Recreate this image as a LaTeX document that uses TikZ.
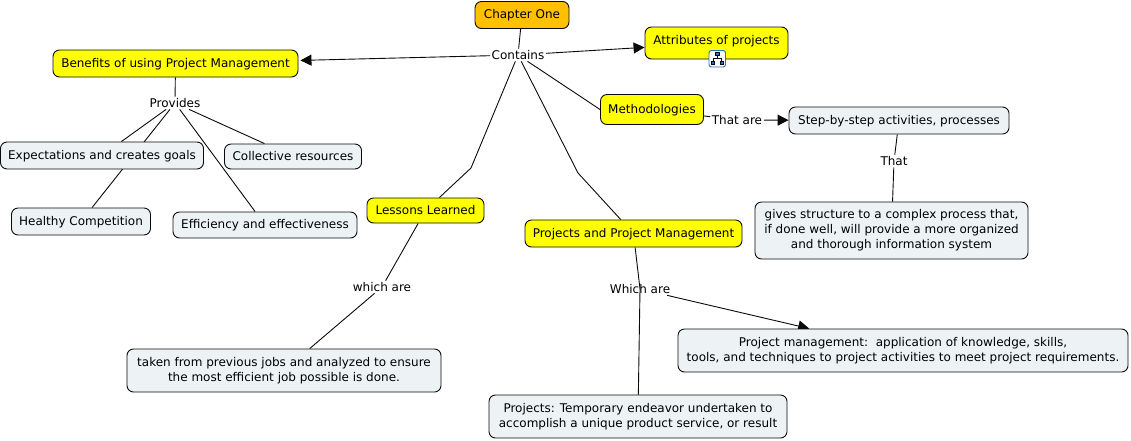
\documentclass[tikz,border=0pt]{standalone}
\usepackage{fontspec}
\setmainfont{DejaVu Sans}
\usetikzlibrary{arrows.meta,backgrounds}
\definecolor{cmapChapter}{RGB}{255,192,0}
\definecolor{cmapTopic}{RGB}{255,255,0}
\definecolor{cmapDetail}{RGB}{237,243,245}
\definecolor{cmapLine}{RGB}{10,10,10}
\definecolor{cmapIcon}{RGB}{40,110,210}
\begin{document}
\begin{tikzpicture}[x=1pt,y=-1pt,
      chapter/.style={draw=cmapLine, fill=cmapChapter, rounded corners=6.5pt,
        line width=.9pt, inner sep=0pt, align=center, font=\fontsize{12}{15}\selectfont},
      topic/.style={chapter, fill=cmapTopic},
      detail/.style={chapter, fill=cmapDetail},
      oneline/.style={text height=9pt, text depth=2pt},
      linking/.style={inner sep=1.5pt, font=\fontsize{12}{15}\selectfont},
      link/.style={draw=cmapLine, line width=.9pt},
      linkto/.style={link, -{Triangle[length=11pt,width=11pt]}}]
      \useasboundingbox (0,0) rectangle (1131,440);

      % Concepts, top of the map first.
      \node[chapter, oneline, minimum width=94pt, minimum height=27pt] (chapter) at (522,15) {Chapter One};
      \node[topic, minimum width=143pt, minimum height=32pt, text height=9pt, text depth=7pt] (attributes) at (716.5,43) {Attributes of projects};
      \node[topic, oneline, minimum width=245pt, minimum height=27pt] (benefits) at (175.5,63.5) {Benefits of using Project Management};
      \node[topic, oneline, minimum width=103pt, minimum height=30pt] (methods) at (652,109.5) {Methodologies};
      \node[topic, oneline, minimum width=117pt, minimum height=25pt] (lessons) at (425.5,210.5) {Lessons Learned};
      \node[topic, oneline, minimum width=217pt, minimum height=27pt] (projects) at (633.5,233.5) {Projects and Project Management};

      \node[detail, oneline, minimum width=220pt, minimum height=27pt] (steps) at (899,120.5) {Step-by-step activities, processes};
      \node[detail, minimum width=273pt, minimum height=57pt] (structure) at (891.5,230.5)
        {gives structure to a complex process that,\\if done well, will provide a more organized\\and thorough information system};
      \node[detail, oneline, minimum width=203pt, minimum height=27pt] (expect) at (102,155.5) {Expectations and creates goals};
      \node[detail, oneline, minimum width=137pt, minimum height=25pt] (collective) at (293,156.5) {Collective resources};
      \node[detail, oneline, minimum width=139pt, minimum height=27pt] (healthy) at (81,221.5) {Healthy Competition};
      \node[detail, oneline, minimum width=184pt, minimum height=26pt] (efficiency) at (265,225) {Efficiency and effectiveness};
      \node[detail, minimum width=314pt, minimum height=43pt] (jobs) at (284,370.5)
        {taken from previous jobs and analyzed to ensure\\the most efficient job possible is done.};
      \node[detail, minimum width=450pt, minimum height=43pt] (mgmt) at (903,350.5)
        {Project management:\ \ application of knowledge, skills,\\tools, and techniques to project activities to meet project requirements.};
      \node[detail, minimum width=298pt, minimum height=43pt] (temporary) at (638,416.5)
        {Projects: Temporary endeavor undertaken to\\accomplish a unique product service, or result};

      % Linking phrases.
      \node[linking] (contains) at (518,55) {Contains};
      \node[linking] (provides) at (175,103) {Provides};
      \node[linking] (thatare) at (737,120) {That are};
      \node[linking] (that) at (894,161) {That};
      \node[linking] (whichlow) at (382,287) {which are};
      \node[linking] (whichup) at (640,289) {Which are};

      \coordinate (lessonsbend) at (471,168);
      \coordinate (projectsbend) at (578,173);

      \begin{scope}[on background layer]
        \path[link] (chapter) -- (contains);
        \path[linkto] (contains) -- (attributes);
        \path[linkto, shorten >=2pt] (contains) -- (benefits);
        \path[link] (contains) -- (methods.west);
        \path[link] (contains) -- (lessonsbend) -- (lessons);
        \path[link] (contains) -- (projectsbend) -- (projects);
        \path[link] (benefits) -- (provides);
        \foreach \target in {expect,collective,healthy,efficiency}{
          \path[link] (provides) -- (\target);}
        \path[link] (methods) -- (thatare);
        \path[linkto] (thatare) -- (steps);
        \path[link] (steps) -- (that);
        \path[link] (that) -- (structure);
        \path[link] (lessons) -- (whichlow);
        \path[link] (whichlow) -- (jobs);
        \path[link] (projects) -- (whichup.center);
        \path[link] (whichup.center) -- (temporary);
        \path[linkto] (whichup) -- (mgmt);
      \end{scope}

      % Submap icon on the attributes box.
      \path[draw=cmapIcon, fill=white, rounded corners=2.5pt, line width=.9pt]
        (709,50.5) rectangle (725.5,67);
      \draw[cmapLine, line width=.6pt] (717.2,55) -- (717.2,58.5) (713,62) -- (713,58.5) -- (721.5,58.5) -- (721.5,62);
      \foreach \px/\py in {717.2/54,713/63,721.5/63}{
        \path[draw=cmapLine, fill=cmapIcon, line width=.5pt] ({\px-1.6},{\py-1.6}) rectangle ++(3.2,3.2);}
    \end{tikzpicture}
\end{document}
